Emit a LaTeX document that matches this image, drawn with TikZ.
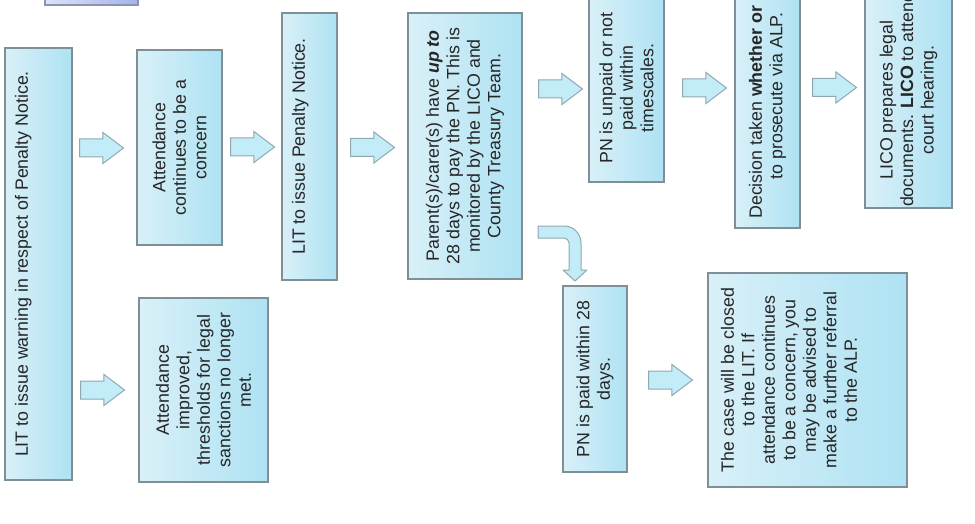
\documentclass[tikz,border=0pt]{standalone}
\usepackage{fontspec}
\setmainfont{Liberation Sans}
\usepackage{graphicx}
\usetikzlibrary{shapes.arrows}
\definecolor{boxL}{HTML}{D9F0F8}
\definecolor{boxR}{HTML}{AEE2F3}
\definecolor{boxD}{HTML}{7E9095}
\definecolor{arrF}{HTML}{C2ECF7}
\definecolor{arrD}{HTML}{90A8B0}
\definecolor{topL}{HTML}{DCE2F8}
\definecolor{topR}{HTML}{A4B4EA}
\definecolor{topD}{HTML}{8C95B0}
% #1 = extent across the text lines, #2 = extent along the lines, #3 = t or c
\newcommand\bxt[4]{\rotatebox{90}{\parbox[c][#1][#3]{#2}{\centering #4}}}
\begin{document}
\begin{tikzpicture}[x=1pt,y=-1pt,
  font=\fontsize{17.8}{20.5}\selectfont,
  boxst/.style={rectangle, draw=boxD, line width=1.1pt, left color=boxL, right color=boxR, inner sep=0pt, text=black!85},
  topst/.style={rectangle, draw=topD, line width=1.1pt, left color=topL, right color=topR, inner sep=0pt},
  barrow/.style={single arrow, draw=arrD, fill=arrF, line width=1pt, inner xsep=0pt, inner ysep=8.5pt,
    single arrow head extend=6.5pt, single arrow tip angle=74, minimum height=44pt, anchor=tail},
  carrow/.style={draw=arrD, fill=arrF, line width=1pt, line join=round}]
\useasboundingbox (0,0) rectangle (975,524);
\clip (0,0) rectangle (975,524);
\fill[white] (0,0) rectangle (975,524);

% boxes
\node[topst, minimum width=93pt, minimum height=25pt] (b0) at (91.5,-7.5) {};
\node[boxst, minimum width=67pt, minimum height=432pt] (b1) at (38.5,264)
  {\bxt{47pt}{420pt}{t}{LIT to issue warning in respect of Penalty Notice.}};
\node[boxst, minimum width=85pt, minimum height=195pt] (b2) at (179.5,147.5)
  {\bxt{65pt}{185pt}{c}{Attendance\\continues to be a\\concern}};
\node[boxst, minimum width=129pt, minimum height=184pt] (b3) at (203.5,390)
  {\bxt{109pt}{176pt}{c}{Attendance\\improved,\\thresholds for legal\\sanctions no longer\\met.}};
\node[boxst, minimum width=55pt, minimum height=267pt] (b4) at (309.5,146.5)
  {\bxt{35pt}{255pt}{t}{LIT to issue Penalty Notice.}};
\node[boxst, minimum width=114pt, minimum height=266pt] (b5) at (465,146)
  {\bxt{94pt}{262pt}{c}{Parent(s)/carer(s) have \textbf{\textit{up to}}\\28 days to pay the PN. This is\\monitored by the LICO and\\County Treasury Team.}};
\node[boxst, minimum width=75pt, minimum height=188pt] (b6) at (626.5,88)
  {\bxt{60pt}{180pt}{c}{PN is unpaid or not\\paid within\\timescales.}};
\node[boxst, minimum width=64pt, minimum height=186pt] (b7) at (595,379)
  {\bxt{50pt}{180pt}{c}{PN is paid within 28\\days.}};
\node[boxst, minimum width=65pt, minimum height=264pt] (b8) at (767.5,96)
  {\bxt{50pt}{260pt}{c}{Decision taken \textbf{whether or not}\\to prosecute via ALP.}};
\node[boxst, minimum width=199pt, minimum height=214pt] (b9) at (807.5,380)
  {\bxt{173pt}{206pt}{t}{The case will be closed\\to the LIT. If\\attendance continues\\to be a concern, you\\may be advised to\\make a further referral\\to the ALP.}};
\node[boxst, minimum width=87pt, minimum height=216pt] (b10) at (908.5,100)
  {\bxt{67pt}{214pt}{c}{LICO prepares legal\\documents. \textbf{LICO} to attend\\court hearing.}};

% block arrows (placed by their tails)
\node[barrow] (a1) at (79,148) {};
\node[barrow] (a2) at (80,390) {};
\node[barrow] (a3) at (230,147) {};
\node[barrow] (a4) at (350,147.5) {};
\node[barrow] (a5) at (538,89) {};
\node[barrow] (a6) at (682,88) {};
\node[barrow] (a7) at (812,87.5) {};
\node[barrow] (a8) at (648,380) {};

% bent arrow from b5 down to b7
\draw[carrow] (538,226) [rounded corners=17pt] -- (581,226) [sharp corners] -- (581,270)
  -- (587,270) -- (575,281) -- (563,270) -- (569,270) [rounded corners=5pt] -- (569,238)
  [sharp corners] -- (538,238) -- cycle;
\end{tikzpicture}
\end{document}
